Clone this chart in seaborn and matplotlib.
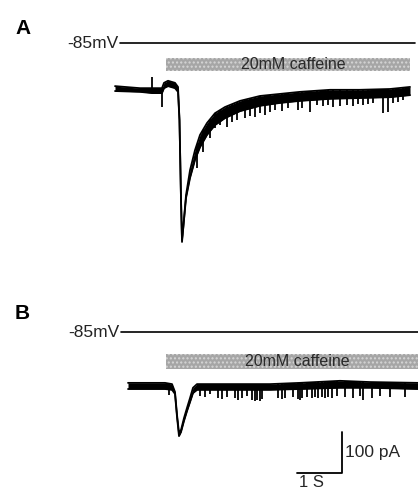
"""Caffeine-evoked inward currents at -85 mV (panels A and B)."""

import numpy as np
import matplotlib.pyplot as plt
import seaborn as sns

sns.set_theme(style="white")
plt.rcParams["font.family"] = ["Liberation Sans", "DejaVu Sans"]

# ---- data (time in s, current in pA) ----
HOLDING_LABEL = "-85mV"
DRUG_LABEL = "20mM caffeine"

# panel A: trace envelope (upper / lower edge of the noisy band)
a_time = [0.0, 0.556, 0.822, 1.044, 1.089, 1.178, 1.333, 1.4, 1.433, 1.467,
          1.489, 1.522, 1.578, 1.667, 1.778, 1.889, 2.044, 2.222, 2.444,
          2.778, 3.222, 3.667, 4.111, 4.778, 5.444, 6.111, 6.556]
a_upper = [7, 2, 2, 2, 15, 20, 15, 5, -76, -271,
           -368, -332, -259, -198, -149, -112, -83, -59, -44,
           -29, -17, -12, -7, -2, -2, 0, 5]
a_lower = [-5, -7, -10, -10, 2, 7, 2, -7, -76, -271,
           -373, -332, -266, -217, -173, -142, -112, -88, -71,
           -54, -41, -34, -29, -24, -22, -20, -15]
# panel A: single-channel-like events (time, tip current)
a_event_t = [0.822, 1.044, 1.822, 1.956, 2.111, 2.222, 2.333, 2.489, 2.6,
             2.711, 2.889, 3.0, 3.111, 3.222, 3.333, 3.444, 3.556, 3.711,
             3.844, 4.067, 4.156, 4.333, 4.489, 4.622, 4.733, 4.844, 5.0,
             5.156, 5.289, 5.4, 5.511, 5.622, 5.733, 5.956, 6.067, 6.178,
             6.289, 6.4]
a_event_i = [29, -44, -193, -154, -120, -95, -88, -93, -81,
             -76, -71, -66, -68, -59, -63, -56, -51, -54,
             -46, -51, -46, -56, -39, -42, -39, -44, -42,
             -39, -42, -37, -39, -37, -34, -59, -56, -34,
             -32, -27]

# panel B
b_time = [0.289, 0.778, 1.111, 1.267, 1.333, 1.378, 1.422, 1.467, 1.533,
          1.6, 1.667, 1.733, 1.822, 2.556, 3.444, 4.111, 5.0, 5.667, 6.733]
b_upper = [10, 10, 10, 7, -12, -68, -112, -105, -76,
           -51, -27, -2, 7, 7, 7, 10, 15, 12, 10]
b_lower = [-5, -5, -5, -7, -17, -73, -120, -110, -83,
           -59, -37, -15, -7, -7, -7, -5, -2, -2, -5]
b_event_t = [1.2, 1.889, 2.0, 2.111, 2.289, 2.378, 2.489, 2.667, 2.733,
             2.822, 2.933, 3.044, 3.111, 3.156, 3.222, 3.267, 3.622, 3.711,
             3.778, 3.956, 4.067, 4.111, 4.156, 4.267, 4.378, 4.444, 4.511,
             4.6, 4.667, 4.733, 4.822, 4.933, 5.111, 5.289, 5.444, 5.511,
             5.711, 5.889, 6.111, 6.444]
b_event_i = [-20, -22, -24, -17, -27, -29, -24, -27, -32,
             -27, -22, -32, -34, -32, -34, -29, -27, -29,
             -27, -24, -29, -32, -27, -24, -27, -24, -27,
             -24, -27, -24, -27, -22, -24, -27, -22, -32,
             -27, -22, -24, -24]

CAFFEINE_ON = {"A": (1.13, 6.55), "B": (1.13, 6.75)}
HOLD_SPAN = {"A": (0.11, 6.67), "B": (0.13, 6.75)}
SCALE_T, SCALE_I = 1.0, 100  # s, pA

XLIM = (-115 / 45, 303 / 45)

fig = plt.figure(figsize=(4.18, 4.91), dpi=100)
ax_a = fig.add_axes([0, 231 / 491, 1, 260 / 491])
ax_b = fig.add_axes([0, 0, 1, 231 / 491])


def draw_panel(ax, letter, t, upper, lower, ev_t, ev_i, ylim, hold_i, bar_i,
               letter_i):
    ax.set_xlim(*XLIM)
    ax.set_ylim(*ylim)
    ax.axis("off")

    # current trace
    ax.fill_between(t, lower, upper, color="black", lw=0)
    sns.lineplot(x=t, y=upper, ax=ax, color="black", lw=1.3, sort=False)
    sns.lineplot(x=t, y=lower, ax=ax, color="black", lw=1.3, sort=False)
    base = np.interp(ev_t, t, upper)
    ax.vlines(ev_t, ev_i, base, color="black", lw=1.3)

    # holding potential
    h0, h1 = HOLD_SPAN[letter]
    ax.plot([h0, h1], [hold_i, hold_i], color="black", lw=1.2)
    ax.text(h0 - 0.04, hold_i, HOLDING_LABEL, ha="right", va="center",
            fontsize=12.5, color="#222222")

    # caffeine application bar
    c0, c1 = CAFFEINE_ON[letter]
    ax.fill_between([c0, c1], bar_i[0], bar_i[1], facecolor="#a6a6a6",
                    edgecolor="#d6d6d6", hatch="....", lw=0)
    ax.text((c0 + c1) / 2 + 0.12, (bar_i[0] + bar_i[1]) / 2, DRUG_LABEL,
            ha="center", va="center", fontsize=11.5, color="#2a2a2a")

    ax.text(-2.22, letter_i, letter, ha="left", va="center",
            fontsize=15, fontweight="bold", color="black")


draw_panel(ax_a, "A", a_time, a_upper, a_lower, a_event_t, a_event_i,
           ylim=(-417, 217), hold_i=112, bar_i=(44, 76), letter_i=148)
draw_panel(ax_b, "B", b_time, b_upper, b_lower, b_event_t, b_event_i,
           ylim=(-254, 310), hold_i=134, bar_i=(44, 80), letter_i=180)

# scale bar
sx, sy = 5.044, -210
ax_b.plot([sx - SCALE_T, sx, sx], [sy, sy, sy + SCALE_I], color="black",
          lw=1.3)
ax_b.text(sx + 0.07, sy + SCALE_I / 2, f"{SCALE_I} pA", ha="left",
          va="center", fontsize=12.5)
ax_b.text(sx - SCALE_T / 2 - 0.18, sy - 4, f"{SCALE_T:.0f} S", ha="center",
          va="top", fontsize=12)

fig.savefig("out.png", dpi=100, facecolor="white")
